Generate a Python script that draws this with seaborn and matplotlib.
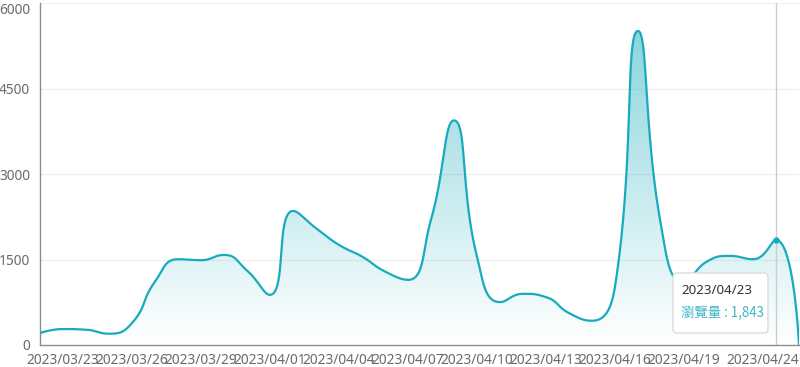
import numpy as np
import pandas as pd
import matplotlib
matplotlib.use("Agg")
import matplotlib.pyplot as plt
import seaborn as sns
from matplotlib.patches import FancyBboxPatch
from matplotlib.transforms import ScaledTranslation

# ---------------- data ----------------
dates = pd.date_range("2023-03-22", "2023-04-24").strftime("%Y/%m/%d").tolist()
views = [210, 280, 268, 198, 385, 1113, 1505, 1488, 1580, 1306,
         880, 2352, 2049, 1756, 1552, 1289, 1143, 2200, 3940, 1550,
         752, 898, 840, 560, 425, 1026, 5509, 2100, 1090, 1465,
         1563, 1505, 1843, 0]
tick_dates = ["2023/03/23", "2023/03/26", "2023/03/29", "2023/04/01",
              "2023/04/04", "2023/04/07", "2023/04/10", "2023/04/13",
              "2023/04/16", "2023/04/19", "2023/04/24"]
y_ticks = [0, 1500, 3000, 4500, 6000]
tooltip_date = "2023/04/23"
series_name = "瀏覽量"

LINE = "#17abbd"

sns.set_theme(style="white")
plt.rcParams["font.family"] = ["Noto Sans", "Noto Sans CJK TC", "DejaVu Sans"]

fig = plt.figure(figsize=(8.0, 3.67), dpi=100)
ax = fig.add_axes([40 / 800, 22 / 367, 759 / 800, 342 / 367])
xpos = np.arange(len(dates))
ax.set_xlim(0, len(dates) - 1)
ax.set_ylim(0, 6000)

# ---------- ECharts-like smooth curve (computed in pixel space) ----------
pts = ax.transData.transform(np.column_stack([xpos, views]).astype(float))
smooth = 0.5
curve = [pts[0]]
cp0 = pts[0].copy()
n = len(pts)
for k in range(1, n):
    prev = pts[k - 1]
    p = pts[k]
    nxt = pts[k + 1] if k < n - 1 else p
    if k < n - 1:
        v = nxt - prev
        d0 = p - prev
        d1 = nxt - p
        l0 = np.hypot(*d0)
        l1 = np.hypot(*d1)
        r = l1 / (l0 + l1)
        ncp0 = p + v * smooth * r
        ncp0 = np.minimum(ncp0, np.maximum(nxt, p))
        ncp0 = np.maximum(ncp0, np.minimum(nxt, p))
        vv = ncp0 - p
        cp1 = p - vv * l0 / l1
        cp1 = np.minimum(cp1, np.maximum(prev, p))
        cp1 = np.maximum(cp1, np.minimum(prev, p))
        vv = p - cp1
        ncp0 = p + vv * l1 / l0
    else:
        cp1 = p.copy()
        ncp0 = p.copy()
    t = np.linspace(0, 1, 40)[1:, None]
    seg = ((1 - t) ** 3) * prev + 3 * ((1 - t) ** 2) * t * cp0 + 3 * (1 - t) * t ** 2 * cp1 + t ** 3 * p
    curve.extend(seg)
    cp0 = ncp0
curve = ax.transData.inverted().transform(np.array(curve))
cx, cy = curve[:, 0], np.clip(curve[:, 1], 0, None)

# ---------- gradient area ----------
poly = ax.fill_between(cx, cy, 0, facecolor="none", edgecolor="none")
ymax = max(views)
grad = np.zeros((256, 2, 4))
rgb = matplotlib.colors.to_rgb(LINE)
grad[..., :3] = rgb
grad[..., 3] = np.linspace(0.0, 0.5, 256)[:, None]
img = ax.imshow(grad, extent=[0, len(dates) - 1, 0, ymax], aspect="auto",
                origin="lower", zorder=1, interpolation="bilinear")
img.set_clip_path(poly.get_paths()[0], transform=ax.transData)

# grid
for yv in y_ticks[1:]:
    ax.axhline(yv, color="#f0f0f0", lw=1, zorder=0.5)

# line
sns.lineplot(x=cx, y=cy, sort=False, estimator=None, color=LINE, lw=1.6, ax=ax, zorder=3)

# hover marker
hi = dates.index(tooltip_date)
ax.axvline(hi, color="#cccccc", lw=1, zorder=2)
sns.scatterplot(x=[hi], y=[views[hi]], color=LINE, s=18, edgecolor=LINE, ax=ax, zorder=4)

ax.set_xlim(0, len(dates) - 1)
ax.set_ylim(0, 6000)

# axes styling
for s in ["top", "right"]:
    ax.spines[s].set_visible(False)
for s in ["left", "bottom"]:
    ax.spines[s].set_color("#8c8c8c")
    ax.spines[s].set_linewidth(1)
ax.set_yticks(y_ticks)
ax.set_yticklabels([str(v) for v in y_ticks])
ax.set_xticks([dates.index(d) for d in tick_dates])
ax.set_xticklabels(tick_dates)
ax.tick_params(axis="both", colors="#8c8c8c", labelcolor="#6a6a6a", labelsize=9.9,
               length=5, width=1, direction="out", pad=1)
ax.tick_params(axis="y", pad=2)
last = ax.get_xticklabels()[-1]
last.set_transform(last.get_transform() + ScaledTranslation(-36 / 100, 0, fig.dpi_scale_trans))
ax.get_xticklines()[-2].set_visible(False)
ax.get_yticklabels()[-1].set_va("top")
ax.set_xlabel("")
ax.set_ylabel("")

# tooltip
box = FancyBboxPatch((673, 367 - 333), 95, 60, boxstyle="round,pad=0,rounding_size=4",
                     facecolor="white", edgecolor="#dcdcdc", lw=1, transform=None, zorder=10)
fig.add_artist(box)
fig.text(681 / 800, 1 - 291 / 367, tooltip_date, ha="left", va="center",
         color="#333333", fontsize=9.6, zorder=11)
fig.text(681 / 800, 1 - 313 / 367, f"{series_name} : {views[hi]:,}", ha="left", va="center",
         color="#3db5c5", fontsize=9.6, zorder=11,
         family=["Noto Sans CJK TC", "DejaVu Sans"])

fig.savefig("out.png", dpi=100)
